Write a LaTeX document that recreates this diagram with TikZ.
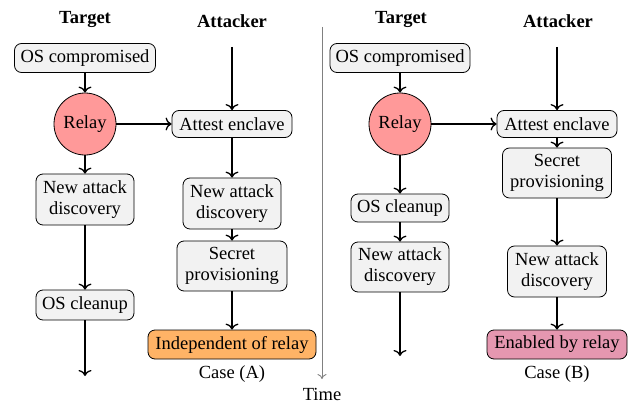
\documentclass[tikz,border=0pt]{standalone}
\usepackage{fontspec}
\setmainfont{Liberation Serif}
\usetikzlibrary{arrows.meta}
\definecolor{boxgray}{HTML}{F2F2F2}
\definecolor{relayred}{HTML}{FF9999}
\definecolor{indorange}{HTML}{FFB366}
\definecolor{enpink}{HTML}{E597B0}
\begin{document}
\begin{tikzpicture}[x=1pt,y=-1pt,
  every node/.style={font=\fontsize{18.5}{21}\selectfont},
  box/.style={draw, rounded corners=7pt, fill=boxgray, align=center, inner sep=2pt, line width=0.8pt},
  relaynode/.style={draw, circle, fill=relayred, minimum size=62pt, inner sep=0pt, line width=0.8pt},
  head/.style={font=\fontsize{18.5}{21}\selectfont\bfseries},
  arr/.style={line width=1.3pt, -{To[length=6pt,width=13pt]}},
  timearr/.style={line width=0.9pt, draw=gray, -{To[length=5pt,width=9pt]}}]
\useasboundingbox (0,0) rectangle (631,404);
% headers
\node[head] (tA) at (85,19) {Target};
\node[head] (aA) at (232,21) {Attacker};
\node[head] (tB) at (401,19) {Target};
\node[head] (aB) at (558,21) {Attacker};
% Case A
\node[box, minimum width=141pt, minimum height=29pt] (osA) at (85,58) {OS compromised};
\node[relaynode] (relayA) at (85,124) {Relay};
\node[box, minimum width=120pt, minimum height=27pt] (attA) at (232,124) {Attest enclave};
\node[box, minimum width=98pt, minimum height=51pt] (nadA) at (85,199.5) {New attack\\discovery};
\node[box, minimum width=98pt, minimum height=30pt] (oscA) at (85,305) {OS cleanup};
\node[box, minimum width=98pt, minimum height=51pt] (nadA2) at (232,203.5) {New attack\\discovery};
\node[box, minimum width=110pt, minimum height=50pt] (spA) at (232,266) {Secret\\provisioning};
\node[box, fill=indorange, minimum width=168pt, minimum height=29pt] (indA) at (232,344.5) {Independent of relay};
\node (caseA) at (232,374) {Case (A)};
\coordinate (attStartA) at (232,47);
\coordinate (endA) at (85,376);
\draw[arr] (osA) -- (relayA);
\draw[arr] (relayA) -- (attA);
\draw[arr] (attStartA) -- (attA);
\draw[arr] (relayA) -- (nadA);
\draw[arr] (nadA) -- (oscA);
\draw[arr] (oscA) -- (endA);
\draw[arr] (attA) -- (nadA2);
\draw[arr] (nadA2) -- (spA);
\draw[arr] (spA) -- (indA);
% time axis
\coordinate (tstart) at (322,27);
\coordinate (tend) at (322,379);
\draw[timearr] (tstart) -- (tend);
\node (time) at (322,394) {Time};
% Case B
\node[box, minimum width=140pt, minimum height=29pt] (osB) at (400,58) {OS compromised};
\node[relaynode] (relayB) at (400,124) {Relay};
\node[box, minimum width=120pt, minimum height=27pt] (attB) at (557,124) {Attest enclave};
\node[box, minimum width=109pt, minimum height=50pt] (spB) at (557,173) {Secret\\provisioning};
\node[box, minimum width=99pt, minimum height=51pt] (nadB2) at (557,271.5) {New attack\\discovery};
\node[box, fill=enpink, minimum width=140pt, minimum height=29pt] (enB) at (557,344.5) {Enabled by relay};
\node (caseB) at (557,374) {Case (B)};
\node[box, minimum width=98pt, minimum height=28pt] (oscB) at (400,208) {OS cleanup};
\node[box, minimum width=98pt, minimum height=50pt] (nadB) at (400,267) {New attack\\discovery};
\coordinate (attStartB) at (557,47);
\coordinate (endB) at (400,356);
\draw[arr] (osB) -- (relayB);
\draw[arr] (relayB) -- (attB);
\draw[arr] (attStartB) -- (attB);
\draw[arr] (attB) -- (spB);
\draw[arr] (spB) -- (nadB2);
\draw[arr] (nadB2) -- (enB);
\draw[arr] (relayB) -- (oscB);
\draw[arr] (oscB) -- (nadB);
\draw[arr] (nadB) -- (endB);
\end{tikzpicture}
\end{document}
